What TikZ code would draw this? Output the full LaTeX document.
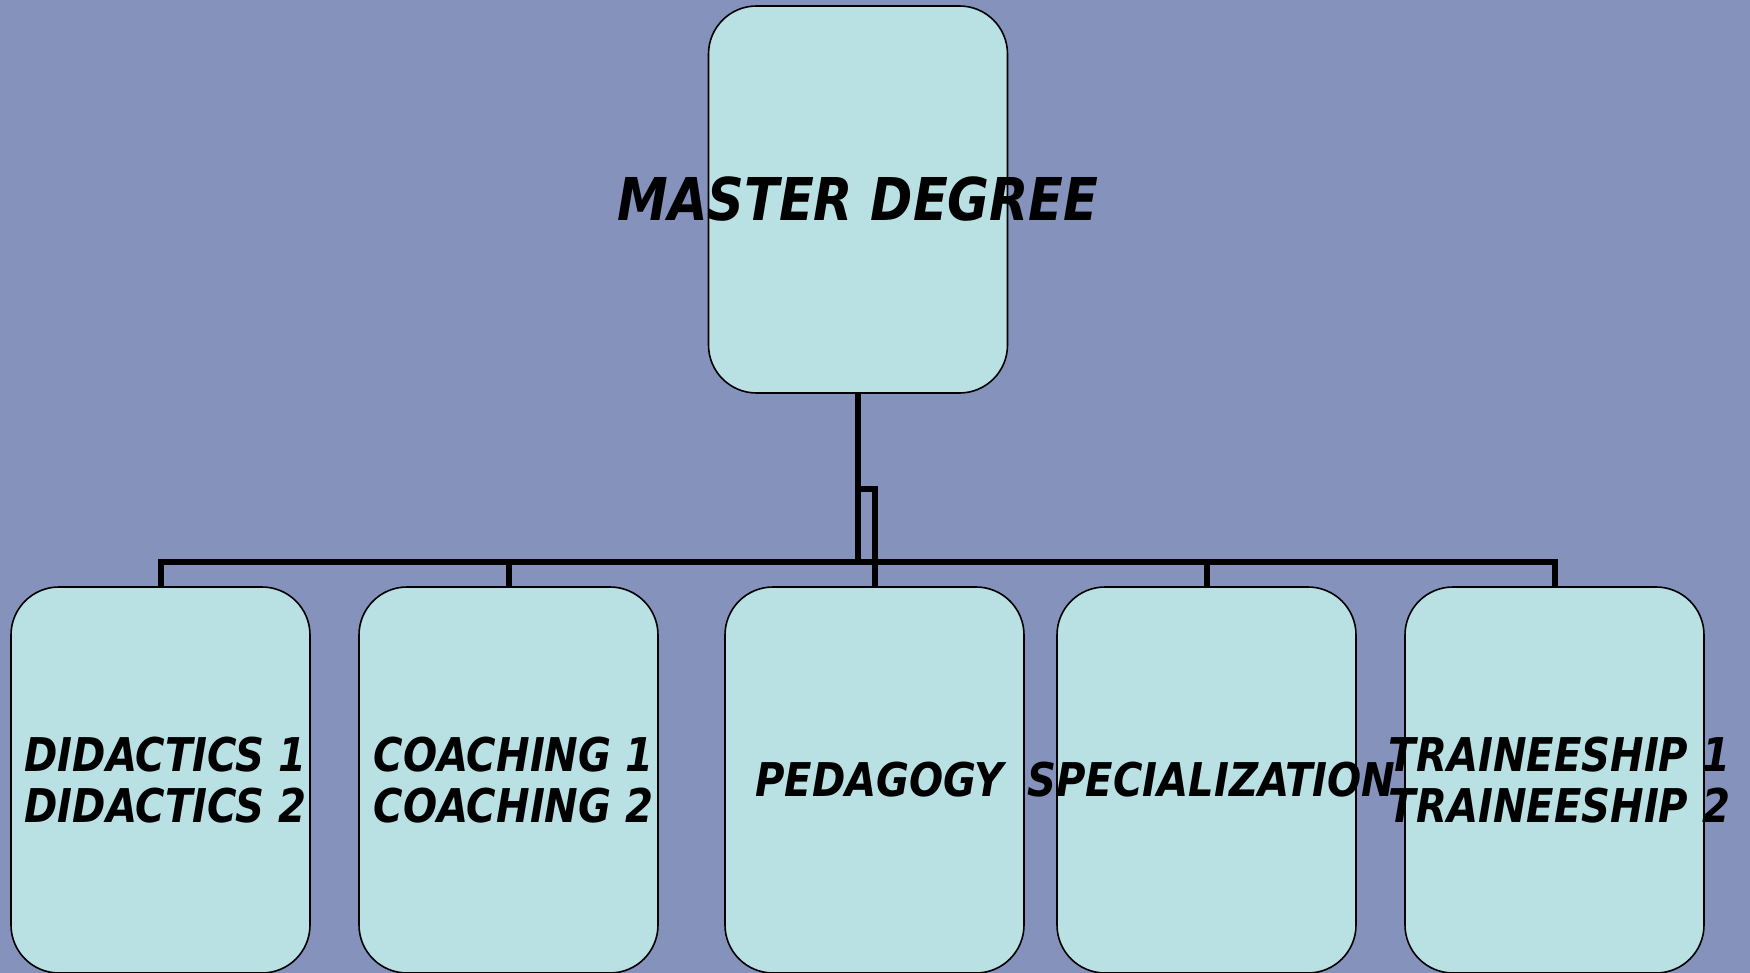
\documentclass[tikz,border=0pt]{standalone}
\usepackage{fontspec}
\newfontfamily\labfont{DejaVu Sans Condensed}[FakeStretch=0.96]
\definecolor{bgc}{RGB}{132,146,188}
\definecolor{boxc}{RGB}{185,224,227}
\begin{document}
\begin{tikzpicture}[x=1pt,y=-1pt,
  boxst/.style={draw=black, line width=1.6pt, fill=boxc, rounded corners=48pt,
    minimum width=299pt, minimum height=386pt, inner sep=0pt},
  txtbase/.style={align=center, inner sep=0pt, text=black},
  lbl/.style={txtbase, xshift=5pt,
    font=\labfont\bfseries\itshape\fontsize{46.5}{51}\selectfont},
  toplbl/.style={txtbase,
    font=\labfont\bfseries\itshape\fontsize{59}{64}\selectfont},
  conn/.style={draw=black, line width=6pt}]
% background and page frame
\fill[bgc] (0,0) rectangle (1750,973);
\useasboundingbox (0,0) rectangle (1750,973);

% boxes
\node[boxst, minimum height=387pt] (m) at (858,199.5) {};
\node[boxst] (d) at (160.5,780) {};
\node[boxst] (c) at (508.5,780) {};
\node[boxst] (p) at (874.5,780) {};
\node[boxst] (s) at (1206.5,780) {};
\node[boxst] (t) at (1554.5,780) {};

% connectors
\coordinate (bar) at (0,561.5);
\coordinate (jog) at (0,489);
\draw[conn] (m.south) -- (m.south |- bar);
\draw[conn] (m.south |- jog) -| (p.north);
\draw[conn] (d.north) -- (d.north |- bar) -| (t.north);
\draw[conn] (c.north) -- (c.north |- bar);
\draw[conn] (s.north) -- (s.north |- bar);

% labels
\node[toplbl] (ml) at (m.center) {MASTER DEGREE};
\node[lbl] (dl) at (d.center) {DIDACTICS 1\\DIDACTICS 2};
\node[lbl] (cl) at (c.center) {COACHING 1\\COACHING 2};
\node[lbl] (pl) at (p.center) {PEDAGOGY};
\node[lbl] (sl) at (s.center) {SPECIALIZATION};
\node[lbl] (tl) at (t.center) {TRAINEESHIP 1\\TRAINEESHIP 2};
\end{tikzpicture}
\end{document}
